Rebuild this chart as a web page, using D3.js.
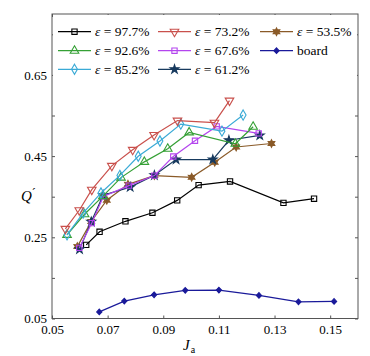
<!DOCTYPE html>
<html><head><meta charset="utf-8">
<script src="https://cdn.jsdelivr.net/npm/d3@7"></script>
<style>body{margin:0;background:#fff}svg{display:block}svg text{font-family:"Liberation Serif","Times New Roman",Times,serif !important}</style>
</head><body><svg id="c" width="370" height="356"></svg>
<script>
const seriesNames = ["ε = 97.7%","ε = 73.2%","ε = 53.5%","ε = 92.6%","ε = 67.6%","board","ε = 85.2%","ε = 61.2%"];
const s977x = [0.0623,0.0671,0.0764,0.0861,0.0950,0.1027,0.1140,0.1332,0.1442];
const s977y = [0.2313,0.2635,0.2894,0.3105,0.3409,0.3785,0.3876,0.3347,0.3451];
const s732x = [0.0548,0.0598,0.0643,0.0715,0.0790,0.0867,0.0951,0.1084,0.1138];
const s732y = [0.2709,0.3166,0.3673,0.4260,0.4655,0.5021,0.5375,0.5323,0.5867];
const s535x = [0.0591,0.0641,0.0697,0.0773,0.0868,0.1002,0.1085,0.1162,0.1289];
const s535y = [0.2271,0.2889,0.3414,0.3804,0.4020,0.3978,0.4349,0.4725,0.4811];
const s926x = [0.0554,0.0617,0.0683,0.0748,0.0832,0.0916,0.0993,0.1159,0.1223];
const s926y = [0.2560,0.3067,0.3513,0.3970,0.4358,0.4680,0.5083,0.4804,0.5224];
const s676x = [0.0598,0.0643,0.0685,0.0776,0.0868,0.0936,0.1014,0.1092,0.1243];
const s676y = [0.2239,0.2850,0.3508,0.3772,0.4020,0.4490,0.4878,0.5232,0.5059];
const boardx = [0.0670,0.0760,0.0867,0.0979,0.1100,0.1244,0.1386,0.1514];
const boardy = [0.0663,0.0928,0.1084,0.1193,0.1200,0.1069,0.0911,0.0920];
const s852x = [0.0554,0.0612,0.0676,0.0744,0.0810,0.0888,0.0963,0.1111,0.1187];
const s852y = [0.2560,0.3097,0.3592,0.4025,0.4497,0.4873,0.5289,0.5115,0.5511];
const s612x = [0.0599,0.0641,0.0684,0.0781,0.0868,0.0946,0.1078,0.1136,0.1247];
const s612y = [0.2207,0.2882,0.3537,0.3735,0.4027,0.4415,0.4415,0.4890,0.5009];
const xTicks = [0.05,0.07,0.09,0.11,0.13,0.15];
const yTicks = [0.05,0.15,0.25,0.35,0.45,0.55,0.65,0.75];
const yLabels = [0.05,0.25,0.45,0.65];

const FONT='"Liberation Serif","Times New Roman",Times,serif';
const colors = ["#000000","#c9504c","#8a5a28","#35a035","#b445ee","#1a1a9a","#3aaad6","#173a5e"];
const markers = ["square","tridown","hexagram","triup","square","dot","diamond","star"];
const filled = [false,false,true,false,false,true,false,true];
const xs=[s977x,s732x,s535x,s926x,s676x,boardx,s852x,s612x];
const ys=[s977y,s732y,s535y,s926y,s676y,boardy,s852y,s612y];

const svg=d3.select("#c");
svg.append("rect").attr("width",370).attr("height",356).attr("fill","#fff");
const L=52,R=358,T=14,B=318.5;
const x=d3.scaleLinear().domain([0.05,0.16]).range([L,R]);
const y=d3.scaleLinear().domain([0.05,0.8]).range([B,T]);
const axisCol="#555";
const fmt=d3.format(".2f");

function styleAxis(g){
  g.attr("font-family",FONT);
  g.select(".domain").remove();
  g.selectAll("line").attr("stroke",axisCol);
  g.selectAll("text").attr("font-size",13).attr("fill","#000").attr("font-family",FONT);
}
svg.append("g").attr("transform",`translate(0,${B})`).call(d3.axisBottom(x).tickValues(xTicks).tickSizeInner(-3).tickSizeOuter(0).tickPadding(6).tickFormat(fmt)).call(styleAxis);
svg.append("g").attr("transform",`translate(0,${T})`).call(d3.axisTop(x).tickValues(xTicks).tickSizeInner(-3).tickSizeOuter(0).tickFormat("")).call(styleAxis);
svg.append("g").attr("transform",`translate(${L},0)`).call(d3.axisLeft(y).tickValues(yTicks).tickSizeInner(-3).tickSizeOuter(0).tickPadding(5).tickFormat(d=>yLabels.some(v=>Math.abs(v-d)<1e-9)?fmt(d):"")).call(styleAxis);
svg.append("g").attr("transform",`translate(${R},0)`).call(d3.axisRight(y).tickValues(yTicks).tickSizeInner(-3).tickSizeOuter(0).tickFormat("")).call(styleAxis);
svg.append("rect").attr("x",L).attr("y",T).attr("width",R-L).attr("height",B-T).attr("fill","none").attr("stroke",axisCol).attr("stroke-width",1);

function hexagram(r){
  const pts=[];
  for(let i=0;i<12;i++){const a=Math.PI/2+i*Math.PI/6;const rr=i%2?r*0.55:r;pts.push([rr*Math.cos(a),-rr*Math.sin(a)]);}
  return "M"+pts.map(p=>p.join(",")).join("L")+"Z";
}
function markerPath(m){
  switch(m){
    case "square": return d3.symbol(d3.symbolSquare,28)();
    case "triup": return d3.symbol(d3.symbolTriangle,32)();
    case "tridown": return d3.symbol(d3.symbolTriangle,32)();
    case "diamond": return d3.symbol(d3.symbolDiamond,30)();
    case "dot": return "M0,-2.8L2.6,0L0,2.8L-2.6,0Z";
    case "star": return d3.symbol(d3.symbolStar,24)();
    case "hexagram": return hexagram(3.8);
  }
}
function drawMarker(g,m,cx,cy,col,fill){
  g.append("path").attr("d",markerPath(m))
   .attr("transform",`translate(${cx},${cy})${m==="tridown"?" rotate(180)":""}`)
   .attr("fill",fill?col:"none").attr("stroke",col).attr("stroke-width",1.1);
}

const line=d3.line().x(d=>x(d[0])).y(d=>y(d[1]));
const plotG=svg.append("g");
const order=[5,0,2,7,4,3,6,1];
order.forEach(i=>{
  const data=xs[i].map((v,k)=>[v,ys[i][k]]);
  const g=plotG.append("g");
  g.append("path").attr("d",line(data)).attr("fill","none").attr("stroke",colors[i]).attr("stroke-width",1.2);
  data.forEach(d=>drawMarker(g,markers[i],x(d[0]),y(d[1]),colors[i],filled[i]));
});

// legend
const leg=svg.append("g");
leg.append("rect").attr("x",L+1).attr("y",T+1).attr("width",R-L-2).attr("height",66).attr("fill","#fff");
const colX=[58,158,260], rowY=[31.7,50.7,69.3];
seriesNames.forEach((n,i)=>{
  const c=i%3, r=Math.floor(i/3);
  const x0=colX[c], yy=rowY[r];
  leg.append("line").attr("x1",x0).attr("x2",x0+33).attr("y1",yy).attr("y2",yy).attr("stroke",colors[i]).attr("stroke-width",1.2);
  drawMarker(leg,markers[i],x0+16.5,yy,colors[i],filled[i]);
  const t=leg.append("text").attr("x",x0+37).attr("y",yy+4.6).attr("font-size",13.5).attr("fill","#000").attr("font-family",FONT);
  if(n.startsWith("ε")){
    t.append("tspan").attr("font-style","italic").text("ε");
    t.append("tspan").text(n.slice(1));
  } else t.text(n);
});

// axis labels
const yl=svg.append("text").attr("x",21).attr("y",201).attr("font-size",15).attr("fill","#000").attr("font-family",FONT);
yl.append("tspan").attr("font-style","italic").text("Q");
yl.append("tspan").attr("font-size",12).attr("dy",-4).text("´");
const xl=svg.append("text").attr("x",183).attr("y",350).attr("font-size",15).attr("fill","#000").attr("font-family",FONT);
xl.append("tspan").attr("font-style","italic").text("J");
xl.append("tspan").attr("font-size",10).attr("dy",3).attr("dx",1).text("a");
</script></body></html>
